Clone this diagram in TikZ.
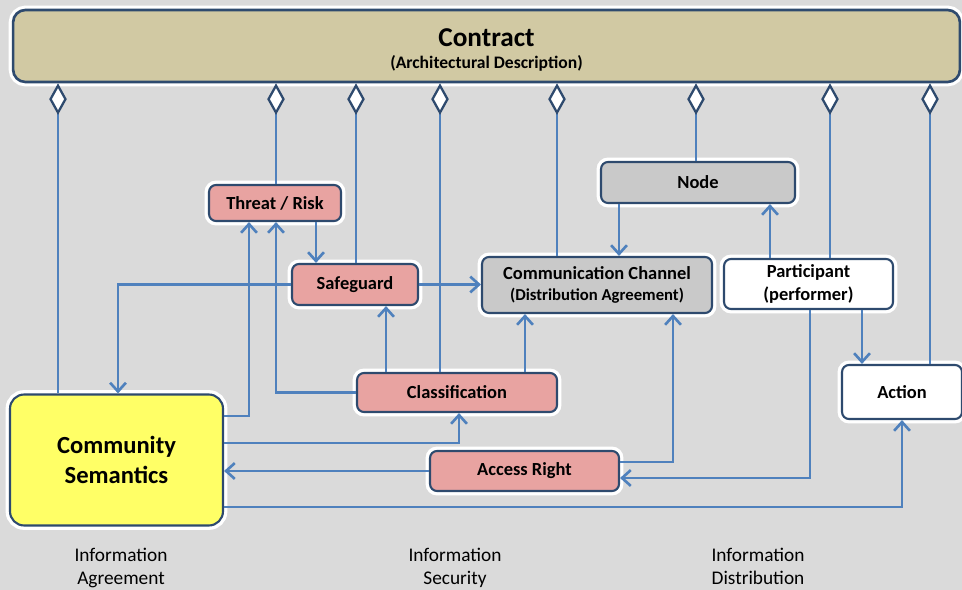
\documentclass[tikz,border=0pt]{standalone}
\usepackage{fontspec}
\setmainfont{Carlito}
\usetikzlibrary{arrows.meta}
\definecolor{linkblue}{HTML}{4F81BD}
\definecolor{edgeblue}{HTML}{2E4A6E}
\definecolor{contracttan}{HTML}{D1C9A3}
\definecolor{riskpink}{HTML}{E8A3A1}
\definecolor{channelgray}{HTML}{C9C9C9}
\definecolor{semyellow}{HTML}{FFFF66}
\definecolor{backgray}{HTML}{DADADA}
\begin{document}
\begin{tikzpicture}[x=0.02cm, y=-0.02cm,
  box/.style={draw=edgeblue, line width=1.2pt, rounded corners=4pt, align=center, inner sep=0pt,
    font=\bfseries\fontsize{10.5}{12.5}\selectfont, preaction={draw=white, line width=5pt}},
  link/.style={draw=linkblue, line width=1.5pt, -{Straight Barb[length=5pt,width=9pt]}},
  part/.style={draw=linkblue, line width=1.5pt, {Diamond[fill=white,color=edgeblue,length=18pt,width=10pt,line width=1.3pt]}-},
  caption/.style={align=center, anchor=north, font=\fontsize{11}{13}\selectfont}]
\fill[backgray] (0,0) rectangle (962,590);
\useasboundingbox (0,0) rectangle (962,590);
\node at (486.5,46) [box, fill=contracttan, minimum width=18.94cm, minimum height=1.44cm, rounded corners=7pt, line width=1.5pt](contract){\raisebox{-6pt}[0pt][0pt]{\begin{tabular}{@{}c@{}}{\fontsize{15.5}{18}\selectfont Contract}\\[0pt]{\fontsize{10}{12}\selectfont (Architectural Description)}\end{tabular}}};
\node at (275,203) [box, fill=riskpink, minimum width=2.64cm, minimum height=0.72cm](threat){Threat / Risk};
\node at (355,284.5) [box, fill=riskpink, minimum width=2.52cm, minimum height=0.82cm](safeguard){Safeguard};
\node at (698,182.5) [box, fill=channelgray, minimum width=3.88cm, minimum height=0.82cm](nodebox){Node};
\node at (597,285) [box, fill=channelgray, minimum width=4.6cm, minimum height=1.12cm](channel){Communication Channel\\[-1pt]{\fontsize{9.5}{11}\selectfont (Distribution Agreement)}};
\node at (808.5,284) [box, fill=white, minimum width=3.38cm, minimum height=1.0cm, font=\bfseries\fontsize{10.5}{13.6}\selectfont](participant){Participant\\(performer)};
\node at (457,392.5) [box, fill=riskpink, minimum width=4.0cm, minimum height=0.78cm](classification){Classification};
\node at (902,392) [box, fill=white, minimum width=2.4cm, minimum height=1.08cm](action){Action};
\node at (116.5,460) [box, fill=semyellow, minimum width=4.26cm, minimum height=2.62cm, rounded corners=8pt, font=\bfseries\fontsize{14}{17}\selectfont](cs){Community\\Semantics};
\node at (524.5,471) [box, fill=riskpink, minimum width=3.78cm, minimum height=0.8cm](access){Access Right};
\node at (121,542) [caption](agreement){Information\\Agreement};
\node at (455,542) [caption](security){Information\\Security};
\node at (758,542) [caption](distribution){Information\\Distribution};
\draw[part] (contract.south -| 58,0) -- (cs.north -| 58,0);
\draw[part] (contract.south -| 276,0) -- (threat.north -| 276,0);
\draw[part] (contract.south -| 356,0) -- (safeguard.north -| 356,0);
\draw[part] (contract.south -| 440,0) -- (classification.north -| 440,0);
\draw[part] (contract.south -| 557,0) -- (channel.north -| 557,0);
\draw[part] (contract.south -| 696,0) -- (nodebox.north -| 696,0);
\draw[part] (contract.south -| 830,0) -- (participant.north -| 830,0);
\draw[part] (contract.south -| 930,0) -- (action.north -| 930,0);
\draw[link] (threat.south -| 316,0) -- (safeguard.north -| 316,0);
\draw[link] (cs.east |- 0,416) -| (threat.south -| 249,0);
\draw[link] (classification.west) -| (threat.south -| 276,0);
\draw[link] (safeguard.west) -| (cs.north -| 118,0);
\draw[link] (safeguard.east) -- (safeguard.east -| channel.west);
\draw[link] (classification.north -| 386,0) -- (safeguard.south -| 386,0);
\draw[link] (classification.north -| 525,0) -- (channel.south -| 525,0);
\draw[link] (nodebox.south -| 619,0) -- (channel.north -| 619,0);
\draw[link] (participant.north -| 770,0) -- (nodebox.south -| 770,0);
\draw[link] (participant.south -| 862,0) -- (action.north -| 862,0);
\draw[link] (participant.south -| 810,0) |- (access.east |- 0,478);
\draw[link] (access.east |- 0,462) -| (channel.south -| 673,0);
\draw[link] (cs.east |- 0,443) -| (classification.south -| 459,0);
\draw[link] (access.west) -- (access.west -| cs.east);
\draw[link] (cs.east |- 0,507) -| (action.south);
\end{tikzpicture}
\end{document}
